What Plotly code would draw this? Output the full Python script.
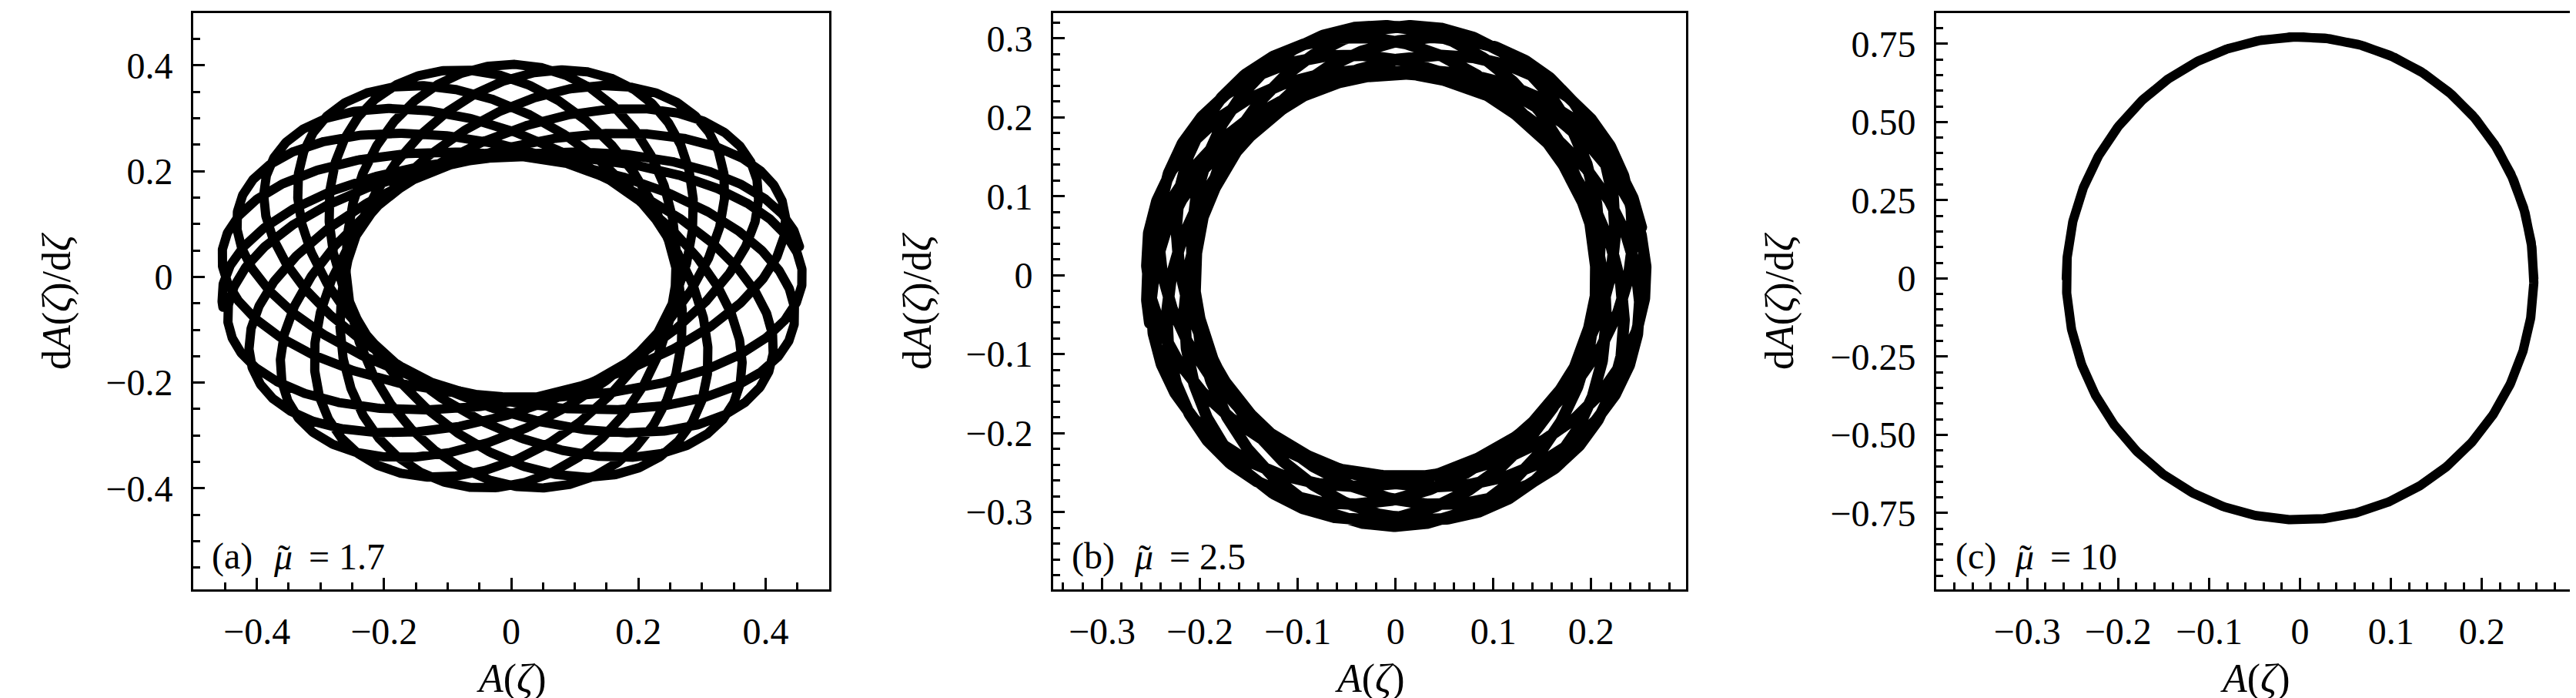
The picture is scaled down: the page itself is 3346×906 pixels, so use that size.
import numpy as np
import plotly.graph_objects as go

W, H = 3346, 906

# ---------------- data ----------------
panel_tags = ["(a)", "(b)", "(c)"]
mu_values = ["1.7", "2.5", "10"]

# orbit geometry (data units): half extents of the outer envelope,
# ratio hole/outer envelope, number of precessing loops forming the pattern
orbit_half_width = [0.458, 0.256, 0.257]
orbit_half_height = [0.402, 0.318, 0.772]
hole_to_outer_ratio = [0.565, 0.80, 1.0]
loops_in_pattern = [11, 8, 1]
tip_offset_deg = [8.2, 11.0, 0.0]

x_ranges = [[-0.5, 0.5], [-0.35, 0.297], [-0.4, 0.3]]
y_ranges = [[-0.591, 0.499], [-0.398, 0.332], [-0.994, 0.848]]

x_tickvals = [[-0.4, -0.2, 0, 0.2, 0.4],
              [-0.3, -0.2, -0.1, 0, 0.1, 0.2],
              [-0.3, -0.2, -0.1, 0, 0.1, 0.2]]
x_ticktext = [["\u22120.4", "\u22120.2", "0", "0.2", "0.4"],
              ["\u22120.3", "\u22120.2", "\u22120.1", "0", "0.1", "0.2"],
              ["\u22120.3", "\u22120.2", "\u22120.1", "0", "0.1", "0.2"]]
y_tickvals = [[-0.4, -0.2, 0, 0.2, 0.4],
              [-0.3, -0.2, -0.1, 0, 0.1, 0.2, 0.3],
              [-0.75, -0.5, -0.25, 0, 0.25, 0.5, 0.75]]
y_ticktext = [["\u22120.4", "\u22120.2", "0", "0.2", "0.4"],
              ["\u22120.3", "\u22120.2", "\u22120.1", "0", "0.1", "0.2", "0.3"],
              ["\u22120.75", "\u22120.50", "\u22120.25", "0", "0.25", "0.50", "0.75"]]
x_minor_step = [0.05, 0.02, 0.02]
y_minor_step = [0.05, 0.02, 0.05]

# ---------------- layout geometry (pixels) ----------------
x_px = [(243, 1069), (1360, 2182), (2507, 3334)]
y_px = (9, 757)
ytitle_px = [66, 1184, 2304]
tag_left_px = [265, 1382, 2530]
mu_left_px = [345, 1463, 2607]
eq_left_px = [391, 1509, 2653]
line_widths = [12, 15, 12]

FONT = "Liberation Serif, DejaVu Serif, serif"
TICK_SIZE = 48
TITLE_SIZE = 52
LABEL_SIZE = 48


def px_x(p):
    return p / W


def px_y(p):
    return 1 - p / H


def orbit(i):
    n = loops_in_pattern[i]
    r1 = (1 + hole_to_outer_ratio[i]) / 2
    r2 = (1 - hole_to_outer_ratio[i]) / 2
    kappa = (2 * n - 1) / (2 * n + 1)
    theta = np.linspace(0, (2 * n + 1) * np.pi, 600 * (2 * n + 1) + 1)
    z = r1 * np.exp(1j * theta) + r2 * np.exp(-1j * kappa * theta)
    z = z * np.exp(1j * np.deg2rad(tip_offset_deg[i]))
    return orbit_half_width[i] * z.real, orbit_half_height[i] * z.imag


def txt(text, x, y, size, xanchor="left", angle=0):
    return dict(text=text, xref="paper", yref="paper", x=px_x(x), y=px_y(y),
                xanchor=xanchor, yanchor="middle", textangle=angle, showarrow=False,
                font=dict(family=FONT, size=size, color="black"))


fig = go.Figure()
annotations = []
for i in range(3):
    x, y = orbit(i)
    sfx = "" if i == 0 else str(i + 1)
    fig.add_trace(go.Scatter(x=x, y=y, mode="lines",
                             line=dict(color="black", width=line_widths[i]),
                             xaxis="x" + sfx, yaxis="y" + sfx,
                             showlegend=False, hoverinfo="skip"))
    common = dict(showline=True, linewidth=3, linecolor="black", mirror=True,
                  ticks="inside", ticklen=15, tickwidth=3, tickcolor="black",
                  showgrid=False, zeroline=False,
                  tickfont=dict(family=FONT, size=TICK_SIZE, color="black"))
    fig.layout["xaxis" + sfx] = dict(
        domain=[px_x(x_px[i][0]), px_x(x_px[i][1])], range=x_ranges[i],
        anchor="y" + sfx, tickmode="array", tickvals=x_tickvals[i],
        ticktext=x_ticktext[i], ticklabelstandoff=10,
        minor=dict(ticks="inside", ticklen=9, tickwidth=2.5, tickcolor="black",
                   tick0=0, dtick=x_minor_step[i], showgrid=False),
        **common)
    fig.layout["yaxis" + sfx] = dict(
        domain=[px_y(y_px[1]), px_y(y_px[0])], range=y_ranges[i],
        anchor="x" + sfx, tickmode="array", tickvals=y_tickvals[i],
        ticktext=y_ticktext[i], ticklabelstandoff=14,
        minor=dict(ticks="inside", ticklen=9, tickwidth=2.5, tickcolor="black",
                   tick0=0, dtick=y_minor_step[i], showgrid=False),
        **common)
    xc = (x_px[i][0] + x_px[i][1]) / 2
    annotations.append(txt("<i>A</i>(<i>\u03b6</i>)", xc, 873, TITLE_SIZE, "center"))
    annotations.append(txt("d<i>A</i>(<i>\u03b6</i>)/d<i>\u03b6</i>", ytitle_px[i],
                           (y_px[0] + y_px[1]) / 2, TITLE_SIZE, "center", -90))
    annotations.append(txt(panel_tags[i], tag_left_px[i], 714, LABEL_SIZE))
    annotations.append(txt("<i>\u03bc</i>", mu_left_px[i], 714, LABEL_SIZE))
    annotations.append(txt("\u02dc", mu_left_px[i] + 16, 716, LABEL_SIZE, "center"))
    annotations.append(txt("= " + mu_values[i], eq_left_px[i], 714, LABEL_SIZE))

fig.update_layout(width=W, height=H, margin=dict(l=0, r=0, t=0, b=0),
                  paper_bgcolor="white", plot_bgcolor="white",
                  annotations=annotations)

round_caps = ("document.querySelectorAll('.scatterlayer path.js-line')"
              ".forEach(function(p){p.style.strokeLinecap='round';"
              "p.style.strokeLinejoin='round';});")
fig.write_html("out.html", post_script=round_caps)
